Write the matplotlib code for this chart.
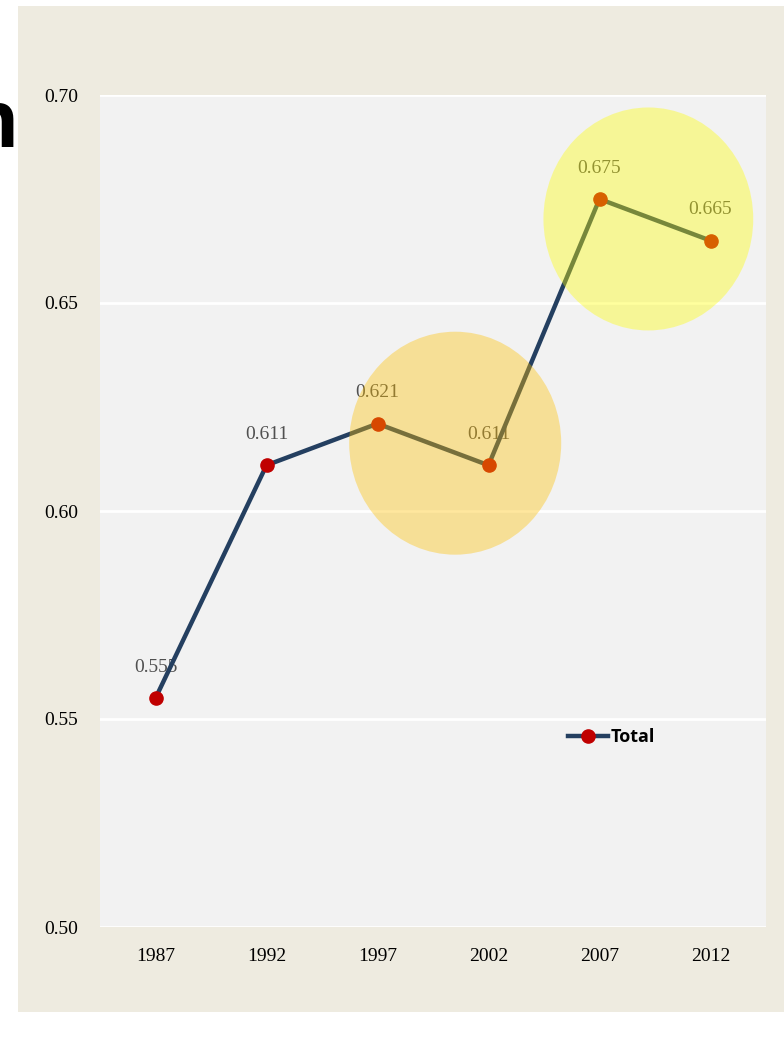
import matplotlib.pyplot as plt
from matplotlib.patches import Ellipse, Rectangle

years = ['1987', '1992', '1997', '2002', '2007', '2012']
total = [0.555, 0.611, 0.621, 0.611, 0.675, 0.665]
yticks = [0.50, 0.55, 0.60, 0.65, 0.70]

fig = plt.figure(figsize=(7.84, 10.39), dpi=100)
fig.patch.set_facecolor('white')

# beige panel behind the chart
fig.patches.append(Rectangle((18 / 784, 27 / 1039), 1 - 18 / 784, 1006 / 1039,
                             transform=fig.transFigure, facecolor='#EEEBE0',
                             edgecolor='none', zorder=-10))
# cut-off title letter at the left edge
fig.text(19 / 784, 1 - 147 / 1039, 'n', ha='right', va='baseline', fontsize=56,
         fontweight='bold', family='Open Sans', color='black', zorder=5)

ax = fig.add_axes([100 / 784, 112 / 1039, 666 / 784, 832 / 1039])
ax.set_facecolor('#F2F2F2')
x = list(range(len(years)))

ax.plot(x, total, color='#243F60', lw=3.2, marker='o', markersize=9.5,
        markerfacecolor='#C00000', markeredgecolor='#C00000', label='Total', zorder=3)

for xi, v in zip(x, total):
    ax.annotate(f'{v:.3f}', (xi, v), xytext=(0, 16), textcoords='offset points',
                ha='center', va='bottom', fontsize=14, family='Liberation Serif',
                color='#505050', zorder=2)

# highlight circles
ax.add_patch(Ellipse((2.70, 0.6163), 1.91, 0.0536, facecolor='#FFC000',
                     alpha=0.38, edgecolor='none', zorder=4))
ax.add_patch(Ellipse((4.44, 0.6702), 1.89, 0.0536, facecolor='#FFFF00',
                     alpha=0.38, edgecolor='none', zorder=4))

ax.set_xlim(-0.5, 5.5)
ax.set_ylim(0.50, 0.70)
ax.set_xticks(x)
ax.set_xticklabels(years)
ax.set_yticks(yticks)
ax.set_yticklabels([f'{t:.2f}' for t in yticks])
for lbl in ax.get_xticklabels() + ax.get_yticklabels():
    lbl.set_family('Liberation Serif')
    lbl.set_fontsize(14)
ax.tick_params(axis='both', length=0)
ax.tick_params(axis='x', pad=15)
ax.tick_params(axis='y', pad=16)
ax.grid(axis='y', color='white', lw=2)
ax.set_axisbelow(True)
for s in ax.spines.values():
    s.set_visible(False)

leg = ax.legend(loc='center left', bbox_to_anchor=(452 / 666, (927 - 737) / 832),
                frameon=False, handlelength=2.2, handletextpad=0.15,
                prop={'family': 'Open Sans', 'weight': 'bold', 'size': 13})

fig.savefig('out.png', dpi=100)
